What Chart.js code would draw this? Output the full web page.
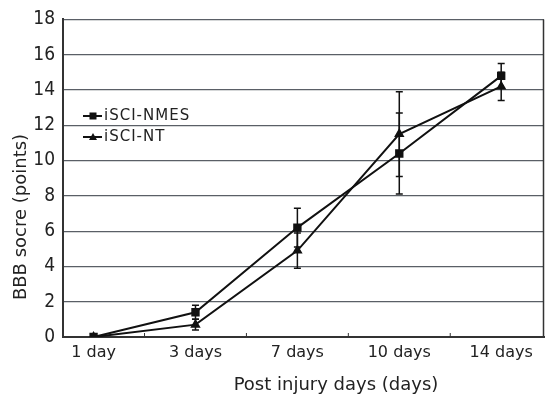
<!DOCTYPE html>
<html>
<head>
<meta charset="utf-8">
<script src="https://cdn.jsdelivr.net/npm/chart.js@4/dist/chart.umd.min.js"></script>
<style>
html,body{margin:0;padding:0;background:#fff;}
#wrap{width:545px;height:397px;position:relative;}
</style>
</head>
<body>
<div id="wrap"><canvas id="c" width="545" height="397"></canvas></div>
<script>
const categories = ["1 day", "3 days", "7 days", "10 days", "14 days"];
const nmesValues = [0, 1.4, 6.2, 10.4, 14.8];
const nmesErrors = [0, 0.4, 1.1, 2.3, 0.7];
const ntValues = [0, 0.7, 4.9, 11.5, 14.2];
const ntErrors = [0, 0.3, 1.0, 2.4, 0.8];
const yTicks = [0, 2, 4, 6, 8, 10, 12, 14, 16, 18];
const xTitle = "Post injury days (days)";
const yTitle = "BBB socre (points)";

const FONT = "'DejaVu Sans', 'Noto Sans', sans-serif";
const COND = "'DejaVu Sans Condensed', 'DejaVu Sans', sans-serif";

const errorBars = {
  id: 'errorBars',
  afterDatasetsDraw(chart) {
    const ctx = chart.ctx;
    const ys = chart.scales.y;
    const errs = [nmesErrors, ntErrors];
    ctx.save();
    ctx.strokeStyle = '#111';
    ctx.lineWidth = 1.5;
    chart.data.datasets.forEach((ds, di) => {
      const meta = chart.getDatasetMeta(di);
      ds.data.forEach((pt, i) => {
        const e = errs[di][i];
        if (!e) return;
        const x = meta.data[i].x;
        const yt = ys.getPixelForValue(pt.y + e);
        const yb = ys.getPixelForValue(pt.y - e);
        ctx.beginPath();
        ctx.moveTo(x, yt); ctx.lineTo(x, yb);
        ctx.moveTo(x - 3.5, yt); ctx.lineTo(x + 3.5, yt);
        ctx.moveTo(x - 3.5, yb); ctx.lineTo(x + 3.5, yb);
        ctx.stroke();
      });
    });
    ctx.restore();
  },
  afterDraw(chart) {
    const ctx = chart.ctx;
    const a = chart.chartArea;
    const xs = chart.scales.x;
    ctx.save();
    ctx.strokeStyle = '#333';
    ctx.lineWidth = 1.5;
    ctx.beginPath();
    ctx.moveTo(a.right - 0.5, a.top); ctx.lineTo(a.right - 0.5, a.bottom);
    ctx.stroke();
    ctx.lineWidth = 1;
    for (let i = 0; i < categories.length - 1; i++) {
      const x = xs.getPixelForValue(i + 0.5);
      ctx.beginPath();
      ctx.moveTo(x, a.bottom); ctx.lineTo(x, a.bottom - 4);
      ctx.stroke();
    }
    ctx.fillStyle = '#222';
    ctx.textAlign = 'center';
    ctx.textBaseline = 'middle';
    ctx.font = "18px " + FONT;
    ctx.fillText(xTitle, 336, 385);
    ctx.save();
    ctx.translate(21, 217);
    ctx.rotate(-Math.PI / 2);
    ctx.font = "18px " + FONT;
    ctx.fillText(yTitle, 0, 0);
    ctx.restore();
    const lx = 83, ly = [116, 137];
    chart.data.datasets.forEach((ds, di) => {
      const y = ly[di];
      ctx.strokeStyle = '#111';
      ctx.lineWidth = 2;
      ctx.beginPath();
      ctx.moveTo(lx, y); ctx.lineTo(lx + 19, y);
      ctx.stroke();
      ctx.fillStyle = '#111';
      const mx = lx + 10;
      if (di === 0) {
        ctx.fillRect(mx - 3.5, y - 3.5, 7, 7);
      } else {
        ctx.beginPath();
        ctx.moveTo(mx, y - 4); ctx.lineTo(mx + 4, y + 3); ctx.lineTo(mx - 4, y + 3);
        ctx.closePath(); ctx.fill();
      }
      ctx.font = "15px " + FONT;
      ctx.textBaseline = 'middle';
      ctx.textAlign = 'left';
      ctx.fillStyle = '#222';
      ctx.letterSpacing = '1px';
      ctx.fillText(ds.label, lx + 21, y);
      ctx.letterSpacing = '0px';
    });
    ctx.restore();
  }
};

new Chart(document.getElementById('c'), {
  type: 'line',
  data: {
    datasets: [
      {
        label: 'iSCI-NMES',
        data: nmesValues.map((v, i) => ({x: i, y: v})),
        borderColor: '#111', backgroundColor: '#111', borderWidth: 2,
        pointStyle: 'rect', pointRadius: 4.5, tension: 0
      },
      {
        label: 'iSCI-NT',
        data: ntValues.map((v, i) => ({x: i, y: v})),
        borderColor: '#111', backgroundColor: '#111', borderWidth: 2,
        pointStyle: 'triangle', pointRadius: 4, tension: 0
      }
    ]
  },
  options: {
    responsive: false,
    animation: false,
    layout: {autoPadding: false, padding: {top: 19, right: 1, left: 0, bottom: 0}},
    plugins: {legend: {display: false}, tooltip: {enabled: false}},
    scales: {
      x: {
        type: 'linear',
        min: -0.3,
        max: 4.42,
        afterBuildTicks(s) { s.ticks = categories.map((c, i) => ({value: i})); },
        afterFit(s) { s.height = 60; },
        ticks: {
          callback: (v) => categories[v],
          color: '#222',
          font: {family: FONT, size: 16},
          padding: 6,
          maxRotation: 0,
          autoSkip: false
        },
        grid: {display: false, drawTicks: false},
        border: {display: true, color: '#333', width: 2}
      },
      y: {
        min: 0, max: 18,
        afterBuildTicks(s) { s.ticks = yTicks.map(v => ({value: v})); },
        afterFit(s) { s.width = 63; },
        ticks: {
          color: '#222',
          font: {family: COND, size: 19},
          padding: 8
        },
        grid: {color: '#5a5f66', lineWidth: 1.2, drawTicks: false},
        border: {display: true, color: '#333', width: 2}
      }
    }
  },
  plugins: [errorBars]
});
</script>
</body>
</html>
